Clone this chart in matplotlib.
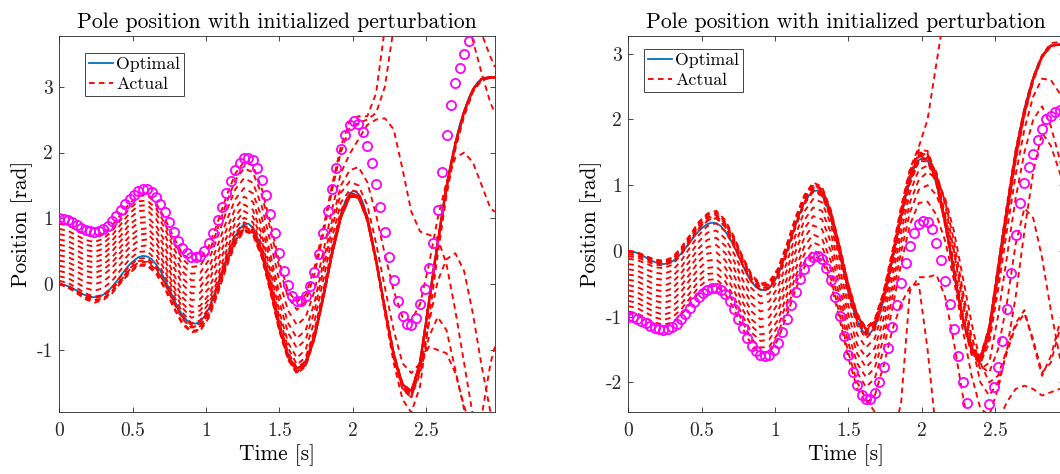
import numpy as np
import matplotlib
matplotlib.use("Agg")
import matplotlib.pyplot as plt
from matplotlib.lines import Line2D

plt.rcParams["font.family"] = ["cmr10", "DejaVu Serif"]
plt.rcParams["axes.formatter.use_mathtext"] = True
plt.rcParams["axes.unicode_minus"] = False

# time grids: reference/perturbed signals every 0.03 s, closed-loop runs every 0.06 s
t_fine = np.round(np.arange(100) * 0.03, 2)
t_coarse = np.append(np.round(np.arange(50) * 0.06, 2), 2.97)

optimal = [
    0.00, -0.01, -0.03, -0.06, -0.10, -0.14, -0.17, -0.19, -0.20, -0.19,
    -0.16, -0.11, -0.04, 0.04, 0.13, 0.22, 0.30, 0.36, 0.41, 0.43,
    0.42, 0.38, 0.30, 0.20, 0.07, -0.07, -0.22, -0.36, -0.47, -0.55,
    -0.59, -0.60, -0.57, -0.49, -0.37, -0.20, -0.01, 0.19, 0.39, 0.58,
    0.73, 0.84, 0.91, 0.92, 0.85, 0.71, 0.51, 0.26, -0.03, -0.32,
    -0.61, -0.86, -1.06, -1.20, -1.27, -1.25, -1.16, -0.99, -0.75, -0.47,
    -0.15, 0.19, 0.51, 0.81, 1.07, 1.26, 1.38, 1.42, 1.37, 1.24,
    1.02, 0.73, 0.39, 0.02, -0.35, -0.72, -1.04, -1.31, -1.50, -1.61,
    -1.60, -1.45, -1.15, -0.72, -0.25, 0.22, 0.65, 1.10, 1.50, 1.85,
    2.15, 2.42, 2.63, 2.82, 2.96, 3.06, 3.12, 3.14, 3.14, 3.14,
]

perturbed_left = [
    1.00, 0.99, 0.97, 0.94, 0.90, 0.86, 0.83, 0.81, 0.80, 0.81,
    0.84, 0.89, 0.96, 1.04, 1.13, 1.22, 1.30, 1.36, 1.41, 1.44,
    1.44, 1.40, 1.33, 1.22, 1.09, 0.95, 0.80, 0.66, 0.55, 0.47,
    0.42, 0.41, 0.43, 0.50, 0.62, 0.78, 0.97, 1.17, 1.38, 1.57,
    1.73, 1.84, 1.91, 1.92, 1.88, 1.76, 1.58, 1.35, 1.07, 0.78,
    0.48, 0.20, -0.02, -0.18, -0.26, -0.26, -0.18, -0.03, 0.19, 0.46,
    0.77, 1.11, 1.45, 1.77, 2.05, 2.27, 2.42, 2.48, 2.44, 2.31,
    2.10, 1.84, 1.52, 1.17, 0.80, 0.42, 0.06, -0.25, -0.48, -0.60,
    -0.62, -0.52, -0.30, -0.08, 0.24, 0.63, 1.12, 1.70, 2.26, 2.72,
    3.05, 3.28, 3.50, 3.70, 3.88, 4.02, 4.12, 4.18, 4.20, 4.20,
]

perturbed_right = [
    -1.00, -1.01, -1.03, -1.06, -1.10, -1.14, -1.17, -1.19, -1.20, -1.19,
    -1.16, -1.11, -1.04, -0.96, -0.87, -0.78, -0.70, -0.64, -0.59, -0.57,
    -0.56, -0.59, -0.66, -0.76, -0.89, -1.03, -1.18, -1.32, -1.44, -1.53,
    -1.58, -1.60, -1.58, -1.51, -1.40, -1.24, -1.04, -0.83, -0.62, -0.43,
    -0.27, -0.16, -0.09, -0.08, -0.13, -0.26, -0.45, -0.70, -0.99, -1.29,
    -1.58, -1.84, -2.04, -2.19, -2.26, -2.25, -2.16, -1.99, -1.76, -1.48,
    -1.16, -0.82, -0.49, -0.18, 0.08, 0.28, 0.41, 0.46, 0.44, 0.33,
    0.12, -0.14, -0.46, -0.80, -1.19, -1.60, -1.99, -2.32, -2.55, -2.66,
    -2.66, -2.55, -2.33, -2.07, -1.76, -1.37, -0.88, -0.33, 0.24, 0.73,
    1.04, 1.28, 1.48, 1.68, 1.86, 2.00, 2.06, 2.12, 2.14, 2.15,
]

# closed-loop runs, positive initial offset
left_a = [0.92, 0.89, 0.82, 0.75, 0.72, 0.77, 0.89, 1.06, 1.23, 1.34, 1.35, 1.23, 1.00, 0.71, 0.46, 0.36, 0.38, 0.58, 0.94, 1.34, 1.68, 1.86, 1.80, 1.46, 0.92, 0.34, -0.11, -0.27, -0.16, 0.25, 0.85, 1.51, 2.09, 2.48, 2.55, 2.55, 2.90, 3.90, 4.90, 5.60, 6.00, 6.10, 6.00, 5.70, 5.30, 4.80, 4.20, 3.70, 3.20, 2.75, 2.60]
left_b = [0.84, 0.81, 0.74, 0.67, 0.64, 0.69, 0.81, 0.98, 1.15, 1.26, 1.27, 1.15, 0.92, 0.63, 0.38, 0.26, 0.28, 0.48, 0.84, 1.24, 1.58, 1.76, 1.70, 1.36, 0.83, 0.25, -0.20, -0.39, -0.26, 0.15, 0.76, 1.43, 2.01, 2.38, 2.45, 2.50, 2.60, 3.00, 3.90, 4.80, 5.40, 5.70, 5.80, 5.70, 5.50, 5.20, 4.80, 4.30, 3.80, 3.45, 3.30]
left_c = [0.76, 0.73, 0.67, 0.60, 0.57, 0.62, 0.74, 0.91, 1.08, 1.19, 1.20, 1.08, 0.85, 0.55, 0.29, 0.16, 0.17, 0.37, 0.72, 1.11, 1.44, 1.61, 1.54, 1.19, 0.64, 0.05, -0.40, -0.62, -0.50, -0.10, 0.49, 1.14, 1.69, 1.98, 2.20, 2.42, 2.50, 2.52, 2.35, 1.75, 1.10, 0.80, 0.75, 0.70, 0.30, -0.40, -1.20, -2.00, -2.60, -3.00, -3.10]
left_d = [0.68, 0.65, 0.59, 0.52, 0.49, 0.54, 0.66, 0.83, 1.00, 1.11, 1.12, 0.99, 0.75, 0.45, 0.19, 0.06, 0.06, 0.25, 0.59, 0.96, 1.29, 1.46, 1.38, 1.02, 0.45, -0.14, -0.59, -0.82, -0.70, -0.28, 0.33, 0.97, 1.50, 1.73, 1.78, 1.55, 1.05, 0.45, -0.10, -0.50, -0.55, -0.30, 0.30, 1.00, 1.55, 1.92, 2.00, 1.85, 1.50, 1.15, 1.10]
left_e = [0.60, 0.57, 0.51, 0.44, 0.41, 0.46, 0.58, 0.74, 0.91, 1.01, 1.02, 0.89, 0.65, 0.35, 0.09, -0.04, -0.04, 0.14, 0.47, 0.83, 1.15, 1.33, 1.25, 0.89, 0.33, -0.27, -0.74, -0.97, -0.84, -0.41, 0.21, 0.85, 1.39, 1.56, 1.50, 1.20, 0.62, -0.05, -0.70, -1.20, -1.35, -1.20, -0.95, -1.00, -1.05, -1.35, -1.85, -2.30, -2.60, -2.80, -2.85]
left_f = [0.52, 0.49, 0.43, 0.36, 0.33, 0.38, 0.50, 0.66, 0.83, 0.93, 0.94, 0.81, 0.56, 0.26, 0.00, -0.14, -0.13, 0.05, 0.36, 0.71, 1.03, 1.21, 1.13, 0.76, 0.19, -0.41, -0.89, -1.12, -0.99, -0.56, 0.06, 0.70, 1.24, 1.43, 1.40, 1.03, 0.38, -0.38, -1.08, -1.55, -1.68, -1.30, -0.60, 0.05, 0.38, 0.47, 0.20, -0.45, -1.25, -1.95, -2.30]
left_g = [0.44, 0.41, 0.35, 0.28, 0.25, 0.30, 0.41, 0.57, 0.73, 0.83, 0.85, 0.71, 0.46, 0.15, -0.11, -0.24, -0.23, -0.06, 0.24, 0.61, 0.93, 1.11, 1.03, 0.67, 0.10, -0.50, -0.97, -1.22, -1.11, -0.70, -0.10, 0.56, 1.12, 1.38, 1.36, 1.00, 0.36, -0.40, -1.10, -1.58, -1.72, -1.35, -0.80, -0.50, -0.70, -1.30, -1.90, -2.30, -2.00, -1.20, -0.95]
left_h = [0.36, 0.33, 0.27, 0.20, 0.17, 0.22, 0.33, 0.49, 0.65, 0.75, 0.77, 0.63, 0.38, 0.06, -0.20, -0.34, -0.33, -0.16, 0.13, 0.51, 0.84, 1.01, 0.94, 0.59, 0.03, -0.58, -1.04, -1.27, -1.17, -0.77, -0.17, 0.48, 1.04, 1.35, 1.33, 0.97, 0.32, -0.45, -1.20, -1.75, -1.95, -1.55, -0.55, 0.45, 1.35, 2.05, 2.55, 2.92, 3.10, 3.14, 3.14]
left_i = [0.28, 0.25, 0.19, 0.12, 0.09, 0.14, 0.25, 0.41, 0.56, 0.66, 0.68, 0.54, 0.29, -0.03, -0.29, -0.43, -0.40, -0.23, 0.05, 0.44, 0.77, 0.94, 0.87, 0.52, -0.03, -0.64, -1.10, -1.32, -1.21, -0.80, -0.20, 0.46, 1.02, 1.33, 1.32, 0.97, 0.34, -0.40, -1.10, -1.57, -1.70, -1.25, -0.30, 0.60, 1.45, 2.10, 2.60, 2.95, 3.12, 3.15, 3.14]
left_j = [0.20, 0.17, 0.10, 0.03, 0.00, 0.04, 0.15, 0.31, 0.47, 0.57, 0.59, 0.46, 0.21, -0.10, -0.36, -0.51, -0.47, -0.29, -0.01, 0.38, 0.71, 0.88, 0.81, 0.46, -0.09, -0.69, -1.13, -1.33, -1.22, -0.81, -0.21, 0.45, 1.01, 1.33, 1.32, 0.96, 0.33, -0.42, -1.12, -1.60, -1.72, -1.28, -0.35, 0.58, 1.42, 2.08, 2.58, 2.93, 3.11, 3.13, 3.14]
left_k = [0.12, 0.09, 0.02, -0.06, -0.10, -0.06, 0.05, 0.22, 0.38, 0.49, 0.50, 0.37, 0.13, -0.17, -0.43, -0.59, -0.55, -0.36, -0.07, 0.33, 0.66, 0.84, 0.78, 0.44, -0.10, -0.68, -1.13, -1.34, -1.23, -0.82, -0.21, 0.45, 1.02, 1.33, 1.33, 0.98, 0.35, -0.39, -1.08, -1.55, -1.66, -1.20, -0.27, 0.63, 1.48, 2.13, 2.62, 2.96, 3.12, 3.14, 3.14]
left_l = [0.05, 0.02, -0.06, -0.14, -0.19, -0.16, -0.05, 0.12, 0.28, 0.39, 0.40, 0.27, 0.03, -0.27, -0.53, -0.66, -0.64, -0.44, -0.09, 0.31, 0.65, 0.83, 0.77, 0.44, -0.10, -0.68, -1.12, -1.33, -1.21, -0.80, -0.19, 0.47, 1.03, 1.34, 1.33, 0.99, 0.36, -0.37, -1.06, -1.52, -1.63, -1.18, -0.24, 0.66, 1.50, 2.15, 2.63, 2.96, 3.12, 3.14, 3.14]
left_m = [0.00, -0.04, -0.12, -0.21, -0.25, -0.22, -0.12, 0.04, 0.19, 0.30, 0.30, 0.18, -0.05, -0.34, -0.59, -0.71, -0.69, -0.48, -0.12, 0.29, 0.64, 0.83, 0.77, 0.44, -0.10, -0.68, -1.12, -1.33, -1.21, -0.80, -0.19, 0.48, 1.04, 1.35, 1.34, 1.00, 0.37, -0.36, -1.05, -1.51, -1.62, -1.17, -0.26, 0.64, 1.49, 2.14, 2.63, 2.96, 3.12, 3.14, 3.14]
left_n = [0.00, -0.05, -0.14, -0.23, -0.28, -0.24, -0.14, 0.02, 0.17, 0.28, 0.28, 0.16, -0.07, -0.36, -0.61, -0.73, -0.71, -0.51, -0.15, 0.26, 0.61, 0.81, 0.75, 0.41, -0.13, -0.71, -1.15, -1.36, -1.25, -0.84, -0.23, 0.44, 1.00, 1.32, 1.31, 0.97, 0.35, -0.38, -1.07, -1.53, -1.66, -1.22, -0.30, 0.60, 1.46, 2.12, 2.61, 2.95, 3.12, 3.14, 3.14]
left_o = [0.02, -0.05, -0.12, -0.20, -0.24, -0.22, -0.10, 0.07, 0.24, 0.35, 0.36, 0.24, 0.01, -0.28, -0.53, -0.65, -0.63, -0.43, -0.07, 0.33, 0.67, 0.87, 0.81, 0.47, -0.07, -0.65, -1.10, -1.31, -1.20, -0.79, -0.19, 0.47, 1.03, 1.34, 1.34, 1.00, 0.37, -0.37, -1.06, -1.53, -1.65, -1.20, -0.28, 0.63, 1.48, 2.13, 2.62, 2.96, 3.12, 3.14, 3.14]
left_p = [0.00, -0.03, -0.10, -0.18, -0.21, -0.18, -0.07, 0.06, 0.22, 0.33, 0.34, 0.22, 0.02, -0.26, -0.50, -0.62, -0.60, -0.40, -0.04, 0.36, 0.70, 0.89, 0.83, 0.49, -0.05, -0.63, -1.08, -1.29, -1.18, -0.77, -0.17, 0.49, 1.05, 1.36, 1.35, 1.01, 0.38, -0.36, -1.05, -1.52, -1.62, -1.17, -0.26, 0.64, 1.49, 2.14, 2.63, 2.96, 3.12, 3.14, 3.14]

# closed-loop runs, negative initial offset
right_a = [-0.92, -0.95, -1.02, -1.09, -1.12, -1.09, -0.97, -0.81, -0.64, -0.54, -0.53, -0.65, -0.88, -1.18, -1.43, -1.56, -1.55, -1.35, -0.99, -0.59, -0.25, -0.07, -0.14, -0.49, -1.04, -1.63, -2.09, -2.32, -2.20, -1.75, -1.20, -0.80, -0.55, -0.50, -1.50, -2.80, -3.60, -4.00, -4.20, -4.30, -4.30, -4.20, -4.00, -3.80, -3.60, -3.40, -3.30, -3.20, -3.10, -3.00, -3.00]
right_b = [-0.84, -0.87, -0.94, -1.01, -1.05, -1.01, -0.89, -0.72, -0.55, -0.44, -0.43, -0.56, -0.79, -1.09, -1.34, -1.47, -1.46, -1.26, -0.90, -0.51, -0.17, 0.01, -0.06, -0.41, -0.96, -1.55, -2.00, -2.25, -2.45, -2.70, -2.90, -2.30, -0.60, -0.40, -0.40, -0.36, -0.70, -1.40, -2.20, -2.90, -3.20, -3.00, -2.60, -2.30, -2.10, -2.05, -2.10, -2.20, -2.15, -2.10, -2.10]
right_c = [-0.76, -0.79, -0.86, -0.93, -0.97, -0.93, -0.81, -0.64, -0.46, -0.35, -0.34, -0.46, -0.70, -0.99, -1.24, -1.37, -1.35, -1.15, -0.79, -0.39, -0.05, 0.13, 0.07, -0.28, -0.82, -1.40, -1.85, -2.07, -1.94, -1.50, -0.88, -0.19, 0.40, 0.73, 0.75, 0.55, 0.15, -0.45, -1.20, -1.90, -2.40, -2.50, -2.10, -1.50, -0.70, 0.30, 1.20, 1.80, 1.60, 1.20, 0.95]
right_d = [-0.68, -0.71, -0.78, -0.85, -0.88, -0.84, -0.72, -0.54, -0.37, -0.26, -0.24, -0.36, -0.60, -0.89, -1.14, -1.27, -1.25, -1.05, -0.68, -0.28, 0.07, 0.25, 0.19, -0.15, -0.68, -1.26, -1.71, -1.92, -1.78, -1.33, -0.70, -0.01, 0.59, 0.93, 1.00, 0.85, 0.50, 0.00, -0.70, -1.40, -2.00, -2.20, -2.00, -1.55, -1.15, -0.95, -1.35, -1.85, -1.70, -1.20, -1.05]
right_e = [-0.60, -0.63, -0.70, -0.76, -0.79, -0.75, -0.62, -0.44, -0.27, -0.15, -0.13, -0.25, -0.49, -0.78, -1.04, -1.16, -1.13, -0.92, -0.56, -0.15, 0.20, 0.39, 0.33, 0.00, -0.54, -1.12, -1.56, -1.77, -1.63, -1.18, -0.55, 0.14, 0.74, 1.08, 1.20, 1.10, 0.80, 0.30, -0.40, -1.10, -1.70, -2.00, -1.90, -1.50, -1.10, -0.90, -1.40, -1.90, -1.60, -1.10, -1.00]
right_f = [-0.52, -0.55, -0.61, -0.68, -0.70, -0.66, -0.53, -0.35, -0.16, -0.04, -0.02, -0.14, -0.37, -0.67, -0.92, -1.04, -1.01, -0.80, -0.43, -0.01, 0.34, 0.53, 0.48, 0.14, -0.40, -0.97, -1.42, -1.62, -1.48, -1.03, -0.40, 0.29, 0.89, 1.23, 1.30, 1.15, 0.75, 0.15, -0.60, -1.30, -1.75, -1.85, -1.50, -0.80, 0.10, 0.65, 0.50, -0.10, -0.90, -1.60, -1.90]
right_g = [-0.44, -0.46, -0.53, -0.59, -0.62, -0.57, -0.43, -0.25, -0.06, 0.06, 0.09, -0.03, -0.26, -0.55, -0.80, -0.92, -0.89, -0.67, -0.30, 0.11, 0.47, 0.66, 0.61, 0.28, -0.26, -0.83, -1.27, -1.47, -1.33, -0.89, -0.26, 0.43, 1.02, 1.36, 1.42, 1.20, 0.70, 0.00, -0.80, -1.45, -1.80, -1.70, -1.00, -0.10, 0.80, 1.50, 2.00, 2.20, 1.90, 1.40, 1.10]
right_h = [-0.36, -0.38, -0.44, -0.51, -0.53, -0.48, -0.34, -0.15, 0.04, 0.17, 0.20, 0.08, -0.15, -0.44, -0.69, -0.80, -0.77, -0.55, -0.18, 0.24, 0.60, 0.79, 0.74, 0.41, -0.12, -0.69, -1.13, -1.33, -1.20, -0.77, -0.16, 0.52, 1.10, 1.43, 1.45, 1.15, 0.55, -0.20, -0.95, -1.50, -1.70, -1.40, -0.60, 0.30, 1.15, 1.85, 2.35, 2.62, 2.60, 2.40, 2.30]
right_i = [-0.28, -0.30, -0.36, -0.42, -0.44, -0.39, -0.25, -0.05, 0.14, 0.28, 0.31, 0.19, -0.04, -0.32, -0.57, -0.69, -0.65, -0.44, -0.06, 0.36, 0.71, 0.91, 0.86, 0.52, -0.02, -0.59, -1.04, -1.24, -1.12, -0.70, -0.09, 0.57, 1.14, 1.46, 1.44, 1.08, 0.43, -0.33, -1.06, -1.58, -1.72, -1.32, -0.45, 0.48, 1.36, 2.05, 2.58, 2.94, 3.11, 3.14, 3.14]
right_j = [-0.20, -0.22, -0.28, -0.33, -0.35, -0.30, -0.15, 0.05, 0.24, 0.38, 0.42, 0.30, 0.07, -0.22, -0.47, -0.59, -0.56, -0.35, 0.02, 0.42, 0.77, 0.96, 0.90, 0.56, 0.03, -0.55, -1.00, -1.21, -1.09, -0.68, -0.07, 0.60, 1.16, 1.48, 1.47, 1.10, 0.45, -0.31, -1.04, -1.55, -1.68, -1.28, -0.40, 0.52, 1.40, 2.08, 2.60, 2.95, 3.12, 3.14, 3.14]
right_k = [-0.12, -0.14, -0.19, -0.25, -0.26, -0.21, -0.06, 0.13, 0.33, 0.46, 0.50, 0.37, 0.13, -0.16, -0.42, -0.55, -0.52, -0.32, 0.05, 0.46, 0.80, 0.99, 0.93, 0.59, 0.05, -0.54, -0.99, -1.20, -1.08, -0.66, -0.06, 0.61, 1.18, 1.50, 1.48, 1.12, 0.46, -0.30, -1.02, -1.52, -1.66, -1.25, -0.35, 0.58, 1.45, 2.12, 2.62, 2.96, 3.12, 3.14, 3.14]
right_l = [-0.05, -0.07, -0.12, -0.18, -0.19, -0.14, 0.00, 0.19, 0.39, 0.52, 0.55, 0.42, 0.17, -0.13, -0.40, -0.53, -0.51, -0.30, 0.07, 0.47, 0.82, 1.00, 0.94, 0.60, 0.06, -0.53, -0.98, -1.19, -1.07, -0.64, -0.03, 0.64, 1.22, 1.54, 1.52, 1.15, 0.48, -0.28, -1.00, -1.50, -1.64, -1.22, -0.30, 0.62, 1.48, 2.14, 2.64, 2.98, 3.16, 3.18, 3.16]
right_m = [0.00, -0.02, -0.08, -0.14, -0.16, -0.11, 0.03, 0.22, 0.42, 0.55, 0.58, 0.44, 0.19, -0.11, -0.38, -0.52, -0.50, -0.29, 0.08, 0.48, 0.83, 1.01, 0.95, 0.60, 0.06, -0.52, -0.98, -1.19, -1.08, -0.67, -0.07, 0.59, 1.15, 1.46, 1.45, 1.08, 0.44, -0.30, -1.00, -1.48, -1.60, -1.15, -0.22, 0.70, 1.54, 2.18, 2.65, 2.97, 3.13, 3.14, 3.14]
right_n = [0.00, -0.02, -0.08, -0.13, -0.15, -0.10, 0.05, 0.24, 0.44, 0.57, 0.61, 0.47, 0.22, -0.09, -0.36, -0.50, -0.47, -0.27, 0.10, 0.51, 0.85, 1.04, 0.98, 0.63, 0.09, -0.50, -0.95, -1.17, -1.04, -0.62, 0.00, 0.68, 1.25, 1.58, 2.00, 2.85, 3.70, 4.50, 5.20, 5.80, 6.30, 6.70, 7.00, 7.20, 7.30, 7.40, 7.40, 7.40, 7.40, 7.40, 7.40]
right_o = [-0.02, -0.04, -0.10, -0.16, -0.18, -0.13, 0.01, 0.19, 0.38, 0.50, 0.53, 0.40, 0.13, -0.18, -0.44, -0.57, -0.55, -0.35, 0.01, 0.41, 0.75, 0.93, 0.87, 0.53, -0.01, -0.59, -1.04, -1.25, -1.14, -0.73, -0.13, 0.53, 1.09, 1.40, 1.39, 1.04, 0.41, -0.33, -1.03, -1.50, -1.61, -1.17, -0.27, 0.64, 1.50, 2.15, 2.63, 2.96, 3.12, 3.14, 3.14]
right_p = [-0.08, -0.10, -0.15, -0.21, -0.22, -0.17, -0.03, 0.16, 0.35, 0.47, 0.50, 0.37, 0.10, -0.21, -0.47, -0.60, -0.58, -0.38, -0.02, 0.38, 0.72, 0.90, 0.84, 0.50, -0.04, -0.62, -1.07, -1.28, -1.17, -0.76, -0.16, 0.50, 1.06, 1.37, 1.36, 1.02, 0.39, -0.35, -1.05, -1.53, -1.64, -1.20, -0.29, 0.62, 1.48, 2.13, 2.62, 2.96, 3.12, 3.14, 3.14]

runs_left = [left_a, left_b, left_c, left_d, left_e, left_f, left_g, left_h,
             left_i, left_j, left_k, left_l, left_m, left_n, left_o, left_p]
runs_right = [right_a, right_b, right_c, right_d, right_e, right_f, right_g, right_h,
              right_i, right_j, right_k, right_l, right_m, right_n, right_o, right_p]

x_ticks = [0, 0.5, 1, 1.5, 2, 2.5]
x_tick_labels = ["0", "0.5", "1", "1.5", "2", "2.5"]
y_ticks_left = [-1, 0, 1, 2, 3]
y_ticks_right = [-2, -1, 0, 1, 2, 3]

BLUE = "#0072BD"
MAGENTA = (1.0, 0.0, 1.0)
AXIS_GREY = "#262626"
DASH = (0, (3.0, 2.3))


def draw_panel(ax, runs, perturbed, ylim, yticks, legend_xy):
    ax.plot(t_fine, optimal, color=BLUE, lw=1.3, zorder=2)
    for run in runs:
        ax.plot(t_coarse, run, color="red", lw=1.35, linestyle=DASH, zorder=3)
    ax.plot(t_fine, perturbed, linestyle="none", marker="o", ms=6.6,
            mfc="none", mec=MAGENTA, mew=1.3, zorder=4)

    ax.set_xlim(0, 2.97)
    ax.set_ylim(*ylim)
    ax.set_xticks(x_ticks)
    ax.set_xticklabels(x_tick_labels)
    ax.set_yticks(yticks)
    ax.set_yticklabels([str(v) for v in yticks])
    ax.tick_params(direction="in", length=3.5, width=0.6, top=True, right=True,
                   labelsize=14, colors=AXIS_GREY)
    ax.tick_params(axis="x", pad=7)
    ax.tick_params(axis="y", pad=4.5)
    for spine in ax.spines.values():
        spine.set_color(AXIS_GREY)
        spine.set_linewidth(0.6)

    ax.set_title("Pole position with initialized perturbation", fontsize=15.6, pad=6)
    ax.set_xlabel("Time [s]", fontsize=15.4, labelpad=3)
    ax.set_ylabel("Position [rad]", fontsize=15.4, labelpad=3)

    handles = [Line2D([], [], color=BLUE, lw=1.3),
               Line2D([], [], color="red", lw=1.35, linestyle=DASH)]
    leg = ax.legend(handles, ["Optimal", "Actual"], loc="upper left",
                    bbox_to_anchor=legend_xy, fontsize=12.8, frameon=True,
                    fancybox=False, edgecolor=AXIS_GREY, framealpha=1.0,
                    handlelength=1.4, handletextpad=0.15, borderpad=0.2,
                    labelspacing=0.25, borderaxespad=0)
    leg.get_frame().set_linewidth(0.6)


fig = plt.figure(figsize=(10.6, 4.74), dpi=100)
ax_left = fig.add_axes([0.0559, 0.1302, 0.4110, 0.7939])
ax_right = fig.add_axes([0.5927, 0.1302, 0.4111, 0.7939])

draw_panel(ax_left, runs_left, perturbed_left, (-1.946, 3.77), y_ticks_left, (0.059, 0.954))
draw_panel(ax_right, runs_right, perturbed_right, (-2.455, 3.27), y_ticks_right, (0.036, 0.965))

fig.savefig("out.png", dpi=100)
